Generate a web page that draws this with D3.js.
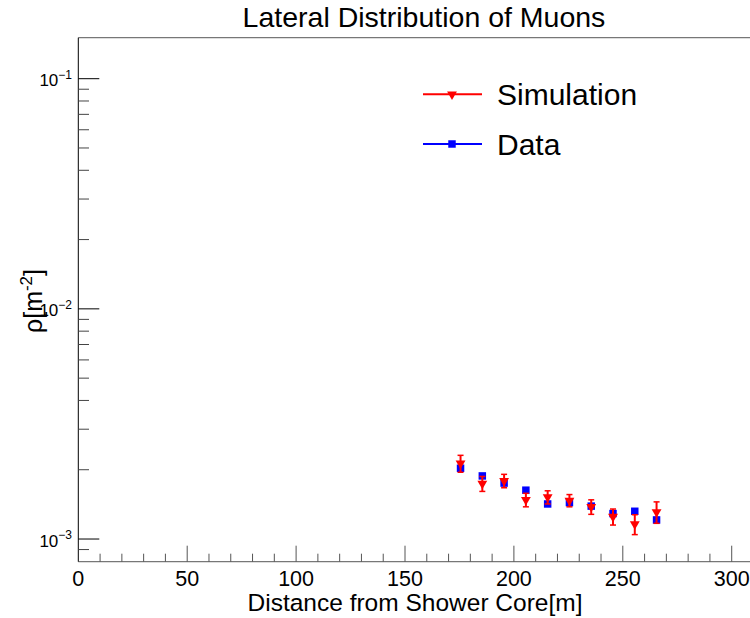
<!DOCTYPE html>
<html>
<head>
<meta charset="utf-8">
<script src="https://cdn.jsdelivr.net/npm/d3@7"></script>
<style>
  body { margin: 0; background: #fff; }
  text { font-family: "Liberation Sans", Arial, Helvetica, sans-serif; fill: #000; }
</style>
</head>
<body>
<script>
// values
var distance = [175.5, 185.5, 195.5, 205.5, 215.5, 225.5, 235.5, 245.5, 255.5, 265.5];
var simulation = [2.13e-3, 1.74e-3, 1.79e-3, 1.48e-3, 1.52e-3, 1.47e-3, 1.38e-3, 1.25e-3, 1.16e-3, 1.31e-3];
var simErr = [0.18e-3, 0.13e-3, 0.12e-3, 0.10e-3, 0.10e-3, 0.09e-3, 0.10e-3, 0.10e-3, 0.115e-3, 0.14e-3];
var data = [2.03e-3, 1.88e-3, 1.75e-3, 1.63e-3, 1.42e-3, 1.44e-3, 1.39e-3, 1.29e-3, 1.32e-3, 1.21e-3];
var dataErr = [0.03e-3, 0.03e-3, 0.03e-3, 0.03e-3, 0.03e-3, 0.03e-3, 0.03e-3, 0.03e-3, 0.03e-3, 0.03e-3];
var xTicks = [0, 50, 100, 150, 200, 250, 300];
var yTicks = [1e-3, 1e-2, 1e-1];
var yExp = ["-3", "-2", "-1"];
var legendNames = ["Simulation", "Data"];

var W = 750, H = 618;
var pad = { left: 78.3, right: 750, top: 37.7, bottom: 561.7 };

var svg = d3.select("body").append("svg")
    .attr("width", W)
    .attr("height", H);

var x = d3.scaleLinear().domain([0, 308.4]).range([pad.left, pad.right]);
var y = d3.scaleLog().domain([7.97e-4, 0.1507]).range([pad.bottom, pad.top]);

// frame
svg.append("line").attr("x1", pad.left).attr("x2", pad.right).attr("y1", pad.top).attr("y2", pad.top)
  .attr("stroke", "#777").attr("stroke-width", 1.2);
svg.append("line").attr("x1", pad.left).attr("x2", pad.right).attr("y1", pad.bottom).attr("y2", pad.bottom)
  .attr("stroke", "#777").attr("stroke-width", 1.2);
svg.append("line").attr("x1", pad.left).attr("x2", pad.left).attr("y1", pad.top).attr("y2", pad.bottom)
  .attr("stroke", "#000").attr("stroke-width", 1);

// x ticks: minor every 10, major every 50
var xMinor = d3.range(10, 310, 10);
svg.append("g").selectAll("line").data(xMinor).enter().append("line")
  .attr("x1", function(d) { return x(d); })
  .attr("x2", function(d) { return x(d); })
  .attr("y1", pad.bottom)
  .attr("y2", function(d) { return d % 50 == 0 ? pad.bottom - 16 : pad.bottom - 8; })
  .attr("stroke", "#555").attr("stroke-width", 1);

svg.append("g").selectAll("text").data(xTicks).enter().append("text")
  .attr("x", function(d) { return x(d); })
  .attr("y", 586)
  .attr("text-anchor", "middle")
  .attr("font-size", 21.5)
  .text(function(d) { return d; });

// y ticks (log): major at decades, minor at 2..9
var yMinor = [];
[1e-4, 1e-3, 1e-2, 1e-1].forEach(function(dec) {
  for (var k = 2; k <= 9; k++) {
    var v = dec * k;
    if (v > 8.01e-4 && v < 0.15) yMinor.push(v);
  }
});
svg.append("g").selectAll("line").data(yMinor).enter().append("line")
  .attr("x1", pad.left).attr("x2", pad.left + 10.7)
  .attr("y1", function(d) { return y(d); })
  .attr("y2", function(d) { return y(d); })
  .attr("stroke", "#444").attr("stroke-width", 1);
svg.append("g").selectAll("line").data(yTicks).enter().append("line")
  .attr("x1", pad.left).attr("x2", pad.left + 21)
  .attr("y1", function(d) { return y(d); })
  .attr("y2", function(d) { return y(d); })
  .attr("stroke", "#000").attr("stroke-width", 1);

var yl = svg.append("g").selectAll("text").data(yTicks).enter().append("text")
  .attr("x", 72)
  .attr("y", function(d) { return y(d) + 7.5; })
  .attr("text-anchor", "end")
  .attr("font-size", 17);
yl.append("tspan").text("10");
yl.append("tspan").attr("dy", -7.5).attr("font-size", 12)
  .text(function(d, i) { return "\u2212" + yExp[i].slice(1); });

// titles
svg.append("text").attr("x", 424).attr("y", 27).attr("text-anchor", "middle")
  .attr("font-size", 28.5).text("Lateral Distribution of Muons");

svg.append("text").attr("x", 415).attr("y", 611).attr("text-anchor", "middle")
  .attr("font-size", 24.5).text("Distance from Shower Core[m]");

var yt = svg.append("text")
  .attr("transform", "translate(42,301) rotate(-90)")
  .attr("text-anchor", "middle")
  .attr("font-size", 25);
yt.append("tspan").text("\u03c1[m");
yt.append("tspan").attr("dy", -10).attr("font-size", 17).text("-2");
yt.append("tspan").attr("dy", 10).text("]");

// markers
var tri = d3.symbol().type(d3.symbolTriangle).size(42);
var sq = d3.symbol().type(d3.symbolSquare).size(56);

function drawSeries(vals, errs, color, sym, rot) {
  var g = svg.append("g");
  var pts = vals.map(function(v, i) { return { x: distance[i], v: v, e: errs[i] }; });
  g.selectAll(".err").data(pts).enter().append("line")
    .attr("x1", function(d) { return x(d.x); })
    .attr("x2", function(d) { return x(d.x); })
    .attr("y1", function(d) { return y(d.v + d.e); })
    .attr("y2", function(d) { return y(d.v - d.e); })
    .attr("stroke", color).attr("stroke-width", 2);
  g.selectAll(".capT").data(pts).enter().append("line")
    .attr("x1", function(d) { return x(d.x) - 3; })
    .attr("x2", function(d) { return x(d.x) + 3; })
    .attr("y1", function(d) { return y(d.v + d.e); })
    .attr("y2", function(d) { return y(d.v + d.e); })
    .attr("stroke", color).attr("stroke-width", 1.5);
  g.selectAll(".capB").data(pts).enter().append("line")
    .attr("x1", function(d) { return x(d.x) - 3; })
    .attr("x2", function(d) { return x(d.x) + 3; })
    .attr("y1", function(d) { return y(d.v - d.e); })
    .attr("y2", function(d) { return y(d.v - d.e); })
    .attr("stroke", color).attr("stroke-width", 1.5);
  g.selectAll("path").data(pts).enter().append("path")
    .attr("d", sym)
    .attr("transform", function(d) { return "translate(" + x(d.x) + "," + y(d.v) + ") rotate(" + rot + ")"; })
    .attr("fill", color);
}

drawSeries(data, dataErr, "#0000ff", sq, 0);
drawSeries(simulation, simErr, "#ff0000", tri, 180);

// legend
var legColors = ["#ff0000", "#0000ff"];
var legY = [94.3, 144];
var leg = svg.append("g");
legendNames.forEach(function(name, i) {
  leg.append("line").attr("x1", 423).attr("x2", 482).attr("y1", legY[i]).attr("y2", legY[i])
    .attr("stroke", legColors[i]).attr("stroke-width", 2);
  leg.append("path").attr("d", i == 0 ? tri : sq)
    .attr("transform", "translate(452," + legY[i] + ") rotate(" + (i == 0 ? 180 : 0) + ")")
    .attr("fill", legColors[i]);
  leg.append("text").attr("x", 497).attr("y", legY[i] + 10.5)
    .attr("font-size", 30).text(name);
});
</script>
</body>
</html>
